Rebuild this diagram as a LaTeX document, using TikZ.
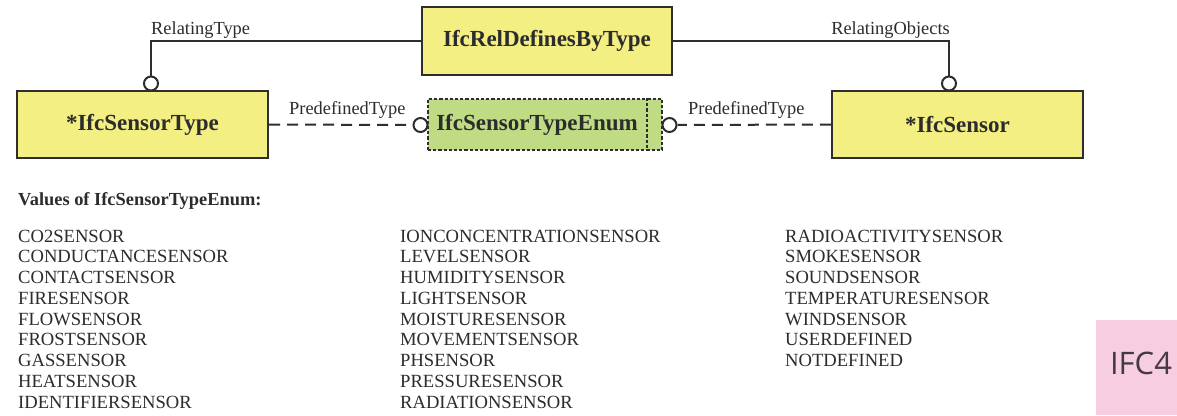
\documentclass[tikz,border=0pt]{standalone}
\usepackage{fontspec}
\setmainfont{Liberation Serif}
\newfontfamily\tagfont{Open Sans}
\definecolor{boxyellow}{HTML}{F4EF82}
\definecolor{enumgreen}{HTML}{BFDC84}
\definecolor{edgegray}{HTML}{2E2E2E}
\definecolor{inkgray}{HTML}{2C2C2C}
\definecolor{tagpink}{HTML}{F7CDE0}
\definecolor{taginkk}{HTML}{443A42}
\begin{document}
\begin{tikzpicture}[x=1pt,y=-1pt,
  entity/.style={draw=edgegray, line width=2.2pt, fill=boxyellow, inner sep=0pt,
    minimum width=251pt, minimum height=67pt, text=inkgray,
    font=\fontsize{23}{27}\selectfont\bfseries},
  enumbox/.style={draw=edgegray, line width=1.9pt, dash pattern=on 3.2pt off 2pt,
    fill=enumgreen, inner sep=0pt, minimum width=234pt, minimum height=51pt,
    text=inkgray, font=\fontsize{23}{27}\selectfont\bfseries},
  enumline/.style={draw=edgegray, line width=1.9pt, dash pattern=on 3.2pt off 2pt},
  ring/.style={circle, draw=edgegray, line width=2pt, fill=white, inner sep=0pt,
    minimum size=14pt},
  link/.style={draw=edgegray, line width=2pt},
  optlink/.style={draw=edgegray, line width=2pt, dash pattern=on 11pt off 7pt},
  role/.style={inner sep=0pt, text=inkgray, font=\fontsize{18.4}{22}\selectfont},
  listitem/.style={inner sep=0pt, anchor=base west, text=inkgray,
    font=\fontsize{18.6}{22}\selectfont},
]
\useasboundingbox (0,0) rectangle (1177,415);
\fill[white] (0,0) rectangle (1177,415);

% entities
\node[entity, minimum width=250pt, minimum height=68pt] (rel) at (547,41) {IfcRelDefinesByType};
\node[entity] (stype) at (142.5,124.5) {*IfcSensorType};
\node[entity] (sensor) at (957.5,124.5) {*IfcSensor};
\node[enumbox] (enum) at (545,124.5) {\hspace*{-16pt}IfcSensorTypeEnum};
\draw[enumline] ([xshift=-16pt]enum.north east) -- ([xshift=-16pt]enum.south east);

% optional-end rings
\node[ring] (r1) at (151,83.5) {};
\node[ring] (r2) at (949,83.5) {};
\node[ring] (r3) at (420.5,125) {};
\node[ring] (r4) at (669.5,125) {};

% relationships
\draw[link] (rel.west) -| (r1.north);
\draw[link] (rel.east) -| (r2.north);
\draw[optlink] (stype.east) -- (r3.west);
\draw[optlink] (sensor.west) -- (r4.east);

% role names
\node[role, anchor=base west] (lrt) at (151,34) {RelatingType};
\node[role, anchor=base east] (lro) at (950,34) {RelatingObjects};
\node[role, anchor=base west] (lp1) at (289,114) {PredefinedType};
\node[role, anchor=base west] (lp2) at (688,114) {PredefinedType};

% enumeration values
\node[listitem, font=\fontsize{18.4}{22}\selectfont\bfseries] (vhead) at (18,205) {Values of IfcSensorTypeEnum:};
\foreach \txt [count=\i from 0] in {CO2SENSOR,CONDUCTANCESENSOR,CONTACTSENSOR,FIRESENSOR,FLOWSENSOR,FROSTSENSOR,GASSENSOR,HEATSENSOR,IDENTIFIERSENSOR}
  \node[listitem] (va\i) at (18,242.2+20.75*\i) {\txt};
\foreach \txt [count=\i from 0] in {IONCONCENTRATIONSENSOR,LEVELSENSOR,HUMIDITYSENSOR,LIGHTSENSOR,MOISTURESENSOR,MOVEMENTSENSOR,PHSENSOR,PRESSURESENSOR,RADIATIONSENSOR}
  \node[listitem] (vb\i) at (400,242.2+20.75*\i) {\txt};
\foreach \txt [count=\i from 0] in {RADIOACTIVITYSENSOR,SMOKESENSOR,SOUNDSENSOR,TEMPERATURESENSOR,WINDSENSOR,USERDEFINED,NOTDEFINED}
  \node[listitem] (vc\i) at (785,242.2+20.75*\i) {\txt};

% schema tag
\node[fill=tagpink, inner sep=0pt, minimum width=81pt, minimum height=95pt] (tag) at (1136.5,367.5) {};
\node[inner sep=0pt, text=taginkk, font=\tagfont\fontsize{31}{34}\selectfont] (tagtxt) at (1141,363.5) {IFC4};
\end{tikzpicture}
\end{document}
